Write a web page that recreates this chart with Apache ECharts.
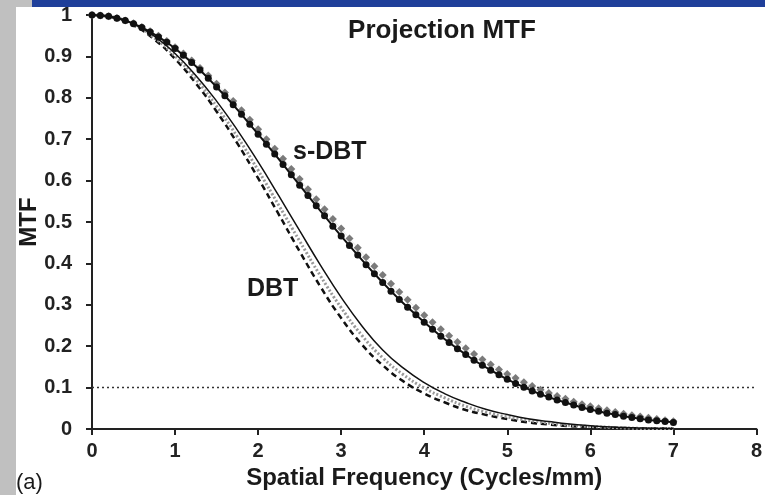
<!DOCTYPE html>
<html>
<head>
<meta charset="utf-8">
<script src="https://cdn.jsdelivr.net/npm/echarts@6/dist/echarts.min.js"></script>
<style>html,body{margin:0;padding:0;background:#fff}#c{width:765px;height:495px}</style>
</head>
<body>
<div id="c"></div>
<script>
// s-DBT frequencies (0.1 mm step) and values
const sFreq = [0,0.1,0.2,0.3,0.4,0.5,0.6,0.7,0.8,0.9,1,1.1,1.2,1.3,1.4,1.5,1.6,1.7,1.8,1.9,2,2.1,2.2,2.3,2.4,2.5,2.6,2.7,2.8,2.9,3,3.1,3.2,3.3,3.4,3.5,3.6,3.7,3.8,3.9,4,4.1,4.2,4.3,4.4,4.5,4.6,4.7,4.8,4.9,5,5.1,5.2,5.3,5.4,5.5,5.6,5.7,5.8,5.9,6,6.1,6.2,6.3,6.4,6.5,6.6,6.7,6.8,6.9,7];
const sDbtBlack = [1.000,0.999,0.997,0.992,0.987,0.979,0.970,0.959,0.947,0.934,0.919,0.903,0.885,0.867,0.847,0.826,0.805,0.783,0.760,0.736,0.712,0.688,0.664,0.639,0.614,0.589,0.564,0.539,0.515,0.490,0.466,0.443,0.420,0.397,0.375,0.354,0.333,0.313,0.294,0.276,0.258,0.241,0.224,0.209,0.194,0.180,0.166,0.154,0.142,0.131,0.120,0.110,0.101,0.092,0.084,0.077,0.070,0.064,0.058,0.052,0.047,0.043,0.038,0.035,0.031,0.028,0.025,0.022,0.020,0.018,0.016];
const sDbtGray = [1.000,0.999,0.997,0.993,0.987,0.980,0.971,0.961,0.950,0.937,0.922,0.907,0.890,0.872,0.854,0.834,0.813,0.792,0.770,0.747,0.724,0.700,0.677,0.653,0.628,0.604,0.579,0.555,0.531,0.507,0.484,0.460,0.438,0.415,0.393,0.372,0.351,0.331,0.312,0.293,0.275,0.258,0.241,0.225,0.210,0.195,0.181,0.168,0.156,0.144,0.133,0.123,0.113,0.104,0.095,0.087,0.080,0.073,0.066,0.060,0.055,0.050,0.045,0.041,0.037,0.033,0.030,0.027,0.024,0.021,0.019];
// DBT frequencies (0.25 mm step) and values
const dFreq = [0,0.25,0.5,0.75,1,1.25,1.5,1.75,2,2.25,2.5,2.75,3,3.25,3.5,3.75,4,4.25,4.5,4.75,5,5.25,5.5,5.75,6,6.25,6.5,6.75,7];
const dbtSolid = [1.000,0.995,0.978,0.949,0.907,0.854,0.792,0.722,0.645,0.563,0.479,0.396,0.318,0.249,0.191,0.147,0.112,0.085,0.064,0.047,0.035,0.025,0.018,0.012,0.008,0.005,0.003,0.002,0.001];
const dbtDotted = [1.000,0.995,0.977,0.945,0.901,0.845,0.779,0.706,0.625,0.540,0.454,0.370,0.293,0.226,0.172,0.131,0.099,0.075,0.055,0.040,0.029,0.021,0.014,0.009,0.006,0.004,0.002,0.001,0.001];
const dbtDashed = [1.000,0.994,0.975,0.941,0.894,0.835,0.767,0.690,0.606,0.518,0.429,0.344,0.268,0.204,0.154,0.115,0.086,0.064,0.046,0.034,0.024,0.016,0.011,0.007,0.004,0.003,0.002,0.001,0.001];
const refLine = [[0,0.1],[8,0.1]];
const xTicks = [0,1,2,3,4,5,6,7,8];
const yTicks = [0,0.1,0.2,0.3,0.4,0.5,0.6,0.7,0.8,0.9,1];

const zip = (xs, ys) => xs.map((x, i) => [x, ys[i]]);
const FONT = '"Liberation Sans", Arial, sans-serif';

const chart = echarts.init(document.getElementById('c'), null, {renderer: 'canvas'});
chart.setOption({
  animation: false,
  backgroundColor: '#ffffff',
  title: {
    text: 'Projection MTF', left: 437, top: 13, textAlign: 'center',
    textStyle: {fontFamily: FONT, fontWeight: 'bold', fontSize: 26, color: '#1a1a1a'}
  },
  grid: {left: 92, right: 7, top: 15, bottom: 64, containLabel: false},
  xAxis: {
    type: 'value', min: 0, max: 8, interval: 1,
    name: 'Spatial Frequency (Cycles/mm)', nameLocation: 'middle', nameGap: 37,
    nameMoveOverlap: false,
    nameTextStyle: {fontFamily: FONT, fontWeight: 'bold', fontSize: 24, color: '#1a1a1a'},
    axisLine: {show: true, lineStyle: {color: '#222', width: 2}},
    axisTick: {show: true, inside: false, length: 6, lineStyle: {color: '#222', width: 2}},
    axisLabel: {margin: 12, fontFamily: FONT, fontWeight: 'bold', fontSize: 20, color: '#222',
      formatter: v => xTicks.includes(v) ? String(v) : ''},
    splitLine: {show: false}
  },
  yAxis: {
    type: 'value', min: 0, max: 1, interval: 0.1,
    name: 'MTF', nameLocation: 'middle', nameGap: 51, nameRotate: 90,
    nameMoveOverlap: false,
    nameTextStyle: {fontFamily: FONT, fontWeight: 'bold', fontSize: 24, color: '#1a1a1a'},
    axisLine: {show: true, lineStyle: {color: '#222', width: 2}},
    axisTick: {show: true, inside: false, length: 6, lineStyle: {color: '#222', width: 2}},
    axisLabel: {margin: 20, fontFamily: FONT, fontWeight: 'bold', fontSize: 20, color: '#222',
      formatter: v => { const t = yTicks.find(y => Math.abs(y - v) < 1e-6); return t === undefined ? '' : String(t); }},
    splitLine: {show: false}
  },
  series: [
    {type: 'line', data: refLine, symbol: 'none', silent: true,
      lineStyle: {color: '#333', width: 1.5, type: [2, 3]}},
    {type: 'line', data: zip(dFreq, dbtDashed), smooth: true, symbol: 'none',
      lineStyle: {color: '#111', width: 2.5, type: [6, 4]}},
    {type: 'line', data: zip(dFreq, dbtDotted), smooth: true, symbol: 'none',
      lineStyle: {color: '#999', width: 3, type: [2, 2]}},
    {type: 'line', data: zip(dFreq, dbtSolid), smooth: true, symbol: 'none',
      lineStyle: {color: '#111', width: 1.5}},
    {type: 'line', data: zip(sFreq, sDbtBlack), symbol: 'circle', symbolSize: 7,
      itemStyle: {color: '#111'}, lineStyle: {color: '#111', width: 2}},
    {type: 'line', data: zip(sFreq, sDbtGray), symbol: 'diamond', symbolSize: 8,
      itemStyle: {color: '#7a7a7a'}, lineStyle: {color: '#e8e8e8', width: 1}, z: 1}
  ],
  graphic: [
    {type: 'rect', left: 0, top: 0, shape: {width: 16, height: 495}, style: {fill: '#c0c0c0'}, z: 100},
    {type: 'rect', left: 16, top: 0, shape: {width: 16, height: 7}, style: {fill: '#c0c0c0'}, z: 100},
    {type: 'rect', left: 32, top: 0, shape: {width: 733, height: 7}, style: {fill: '#1f3f9a'}, z: 100},
    {type: 'text', left: 293, top: 140, style: {text: 's-DBT', font: 'bold 25px "Liberation Sans", Arial, sans-serif', fill: '#1a1a1a'}, z: 50},
    {type: 'text', left: 247, top: 277, style: {text: 'DBT', font: 'bold 25px "Liberation Sans", Arial, sans-serif', fill: '#1a1a1a'}, z: 50},
    {type: 'text', left: 16, top: 472, style: {text: '(a)', font: '22px "Liberation Sans", Arial, sans-serif', fill: '#1a1a1a'}, z: 50}
  ]
});
</script>
</body>
</html>
